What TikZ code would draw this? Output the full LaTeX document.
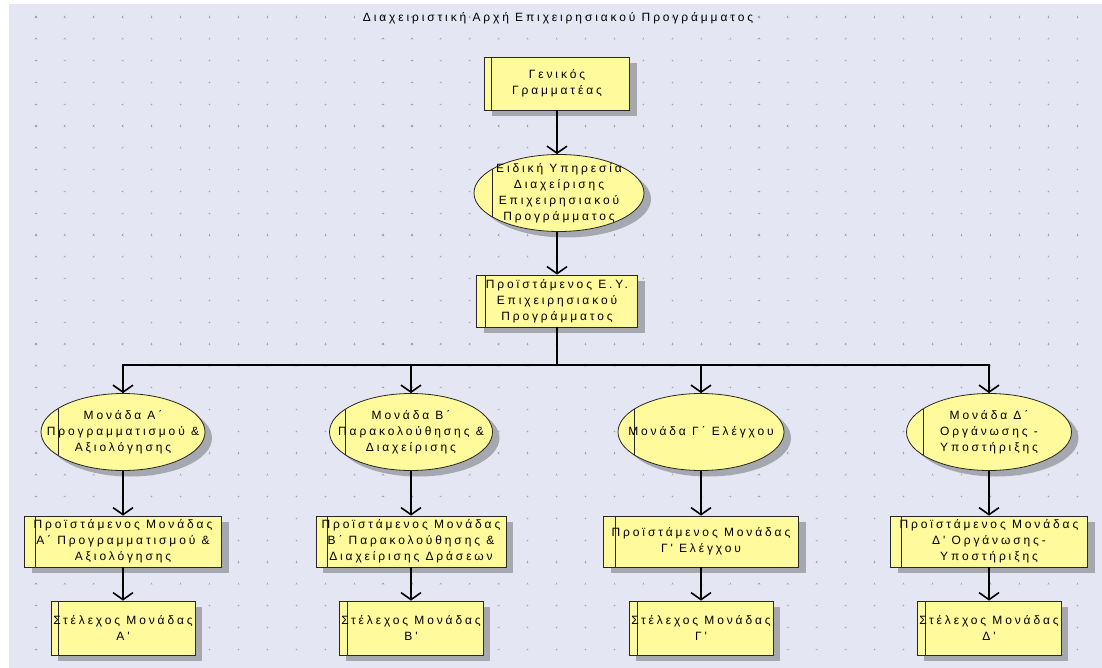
\documentclass[tikz,border=0pt]{standalone}
\usepackage{fontspec}
\newfontfamily\dfont{Liberation Sans}[LetterSpace=24]
\usetikzlibrary{arrows.meta,shapes.geometric,shadows}
\definecolor{bgc}{RGB}{228,230,243}
\definecolor{boxyellow}{RGB}{255,250,155}
\definecolor{shadowgray}{RGB}{165,168,175}
\definecolor{dotc}{RGB}{150,150,165}
\def\barx{8pt}
\begin{document}
\begin{tikzpicture}[x=1pt,y=-1pt,
  barpos/.store in=\barx,
  shp/.style={draw=black!85, line width=0.8pt, fill=boxyellow,
    drop shadow={shadow xshift=7pt,shadow yshift=-6pt,fill=shadowgray,opacity=1}},
  boxshape/.style={shp, rectangle, inner sep=0pt,
    path picture={\draw[line width=0.8pt,black!85] ([xshift=\barx]path picture bounding box.north west) -- ([xshift=\barx]path picture bounding box.south west);}},
  ellshape/.style={shp, ellipse, inner sep=0pt,
    path picture={\draw[line width=0.8pt,black!85] ([xshift=\barx]path picture bounding box.north west) -- ([xshift=\barx]path picture bounding box.south west);}},
  txt/.style={font=\dfont\fontsize{12}{16}\selectfont, align=center, inner sep=0pt},
  conn/.style={line width=1.6pt, -{Straight Barb[length=7pt,width=20pt]}},
  plainline/.style={line width=1.6pt}
]
\useasboundingbox (0,0) rectangle (1102,668);
\fill[white] (0,0) rectangle (1102,668);
\fill[bgc] (9,4) rectangle (1102,668);
\foreach \i in {0,...,36} {
  \foreach \j in {0,...,29} {
    \draw[dotc!40, line width=0.4pt] ({36+28.92*\i-1.6},{17+21.8*\j}) -- ++(3.2,0) ({36+28.92*\i},{17+21.8*\j-1.6}) -- ++(0,3.2);
    \fill[dotc!85] ({36+28.92*\i-0.55},{17+21.8*\j-0.55}) rectangle ++(1.1,1.1);
  }
}
\node[txt] (title) at (558,18) {Διαχειριστική Αρχή Επιχειρησιακού Προγράμματος};

% top chain
\node[boxshape, barpos=7pt, minimum width=145pt, minimum height=53pt] (g) at (557,83.5) {};
\node[txt] (gt) at (g) {Γενικός\\Γραμματέας};
\node[ellshape, barpos=18pt, minimum width=170pt, minimum height=77pt] (e0) at (559,193) {};
\node[txt] (e0t) at (e0) {Ειδική Υπηρεσία\\Διαχείρισης\\Επιχειρησιακού\\Προγράμματος};
\node[boxshape, barpos=9pt, minimum width=161pt, minimum height=52pt] (b0) at (557,301) {};
\node[txt] (b0t) at (b0) {Προϊστάμενος Ε.Υ.\\Επιχειρησιακού\\Προγράμματος};

% row 2 ellipses
\node[ellshape, barpos=17pt, minimum width=164pt, minimum height=77pt] (e1) at (123,432) {};
\node[txt] (e1t) at (e1) {Μονάδα Α΄\\Προγραμματισμού \&\\Αξιολόγησης};
\node[ellshape, barpos=16pt, minimum width=163pt, minimum height=77pt] (e2) at (411,432) {};
\node[txt] (e2t) at (e2) {Μονάδα Β΄\\Παρακολούθησης \&\\Διαχείρισης};
\node[ellshape, barpos=16pt, minimum width=166pt, minimum height=77pt] (e3) at (701,432) {};
\node[txt] (e3t) at (e3) {Μονάδα Γ΄ Ελέγχου};
\node[ellshape, barpos=17pt, minimum width=165pt, minimum height=77pt] (e4) at (989,432) {};
\node[txt] (e4t) at (e4) {Μονάδα Δ΄\\Οργάνωσης -\\Υποστήριξης};

% row 3 boxes
\node[boxshape, barpos=11pt, minimum width=197pt, minimum height=51pt] (p1) at (123,541.5) {};
\node[txt] (p1t) at (p1) {Προϊστάμενος Μονάδας\\Α΄ Προγραμματισμού \&\\Αξιολόγησης};
\node[boxshape, barpos=11pt, minimum width=190pt, minimum height=51pt] (p2) at (411,541.5) {};
\node[txt] (p2t) at (p2) {Προϊστάμενος Μονάδας\\Β΄ Παρακολούθησης \&\\Διαχείρισης Δράσεων};
\node[boxshape, barpos=12pt, minimum width=195pt, minimum height=51pt] (p3) at (701,541.5) {};
\node[txt] (p3t) at (p3) {Προϊστάμενος Μονάδας\\Γ' Ελέγχου};
\node[boxshape, barpos=11pt, minimum width=197pt, minimum height=51pt] (p4) at (989,541.5) {};
\node[txt] (p4t) at (p4) {Προϊστάμενος Μονάδας\\Δ' Οργάνωσης-\\Υποστήριξης};

% row 4 boxes
\node[boxshape, barpos=7pt, minimum width=144pt, minimum height=54pt] (s1) at (123,628) {};
\node[txt] (s1t) at (s1) {Στέλεχος Μονάδας\\Α'};
\node[boxshape, barpos=8pt, minimum width=144pt, minimum height=54pt] (s2) at (411,628) {};
\node[txt] (s2t) at (s2) {Στέλεχος Μονάδας\\Β'};
\node[boxshape, barpos=8pt, minimum width=144pt, minimum height=54pt] (s3) at (701,628) {};
\node[txt] (s3t) at (s3) {Στέλεχος Μονάδας\\Γ'};
\node[boxshape, barpos=8pt, minimum width=144pt, minimum height=54pt] (s4) at (989,628) {};
\node[txt] (s4t) at (s4) {Στέλεχος Μονάδας\\Δ'};

% connectors
\draw[conn] (g.south) -- (e0.north -| g.south);
\draw[conn] (e0.south -| g.south) -- (b0.north);
\coordinate (bus) at (557,365);
\draw[plainline] (b0.south) -- (bus);
\foreach \i in {1,...,4} {
  \draw[conn] (bus) -| (e\i.north);
  \draw[conn] (e\i.south) -- (p\i.north);
  \draw[conn] (p\i.south) -- (s\i.north);
}
\end{tikzpicture}
\end{document}
